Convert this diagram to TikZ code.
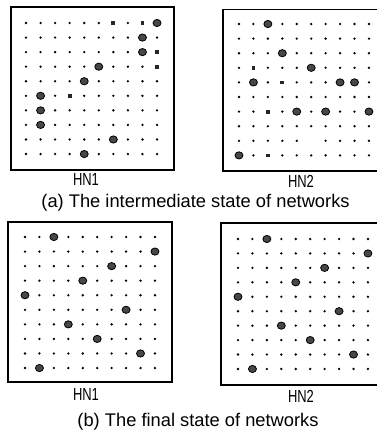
\documentclass[tikz,border=0pt]{standalone}
\usepackage{fontspec}
\setmainfont{Liberation Sans}
\usetikzlibrary{calc}

\tikzset{
  framebox/.style={draw=black, line width=1.6pt},
  smalldot/.style={fill=black},
  bigdot/.style={fill=black!72, draw=black, line width=0.8pt},
  sqdot/.style={fill=black!85},
  netlabel/.style={anchor=base, inner sep=0pt, font=\fontsize{17.5}{17.5}\selectfont},
  caption/.style={anchor=base, inner sep=0pt, font=\fontsize{18.3}{18}\selectfont}
}

% grid helpers (grid units: column/row index, starting at 1)
\newcommand\fulldots{%
  \foreach \r in {1,...,10} \foreach \c in {1,...,10}
    \fill[smalldot] (\c,\r) circle (1.3pt);}
\newcommand\bigat[2]{\fill[bigdot] (#2,#1) ellipse [x radius=4pt, y radius=3.6pt];}
\newcommand\sqat[2]{\fill[sqdot] ($(#2,#1)+(-1.9pt,-1.9pt)$) rectangle ++(3.8pt,3.8pt);}

\begin{document}
\begin{tikzpicture}[x=1pt, y=-1pt]
\useasboundingbox (0,0) rectangle (376,432);
\fill[white] (0,0) rectangle (376,432);

% frames
\draw[framebox] (11,7) rectangle (174,170);
\draw[framebox] (223,9.5) rectangle (392,171);
\draw[framebox] (8,222) rectangle (172,382);
\draw[framebox] (221,223) rectangle (392,385);

% (a) HN1
\begin{scope}[shift={(11.44,8.44)}, x=14.56pt, y=-14.56pt]
  \fulldots
  \sqat{1}{7} \sqat{1}{9} \bigat{1}{10}
  \bigat{2}{9}
  \bigat{3}{9} \sqat{3}{10}
  \bigat{4}{6} \sqat{4}{10}
  \bigat{5}{5}
  \bigat{6}{2} \sqat{6}{4}
  \bigat{7}{2}
  \bigat{8}{2}
  \bigat{9}{7}
  \bigat{10}{5}
\end{scope}

% (a) HN2
\begin{scope}[shift={(224.56,9.4)}, x=14.44pt, y=-14.6pt]
  \foreach \r in {1,...,8,10} \foreach \c in {1,...,10}
    \fill[smalldot] (\c,\r) circle (1.3pt);
  \foreach \c in {1,...,5,7,8,9,10}
    \fill[smalldot] (\c,9) circle (1.3pt);
  \bigat{1}{3}
  \bigat{3}{4}
  \sqat{4}{2} \bigat{4}{6}
  \bigat{5}{2} \sqat{5}{4} \bigat{5}{8} \bigat{5}{9}
  \sqat{7}{3} \bigat{7}{5} \bigat{7}{7} \bigat{7}{10}
  \bigat{10}{1} \sqat{10}{3}
\end{scope}

% (b) HN1
\begin{scope}[shift={(10.56,222.44)}, x=14.44pt, y=-14.56pt]
  \fulldots
  \bigat{1}{3} \bigat{2}{10} \bigat{3}{7} \bigat{4}{5} \bigat{5}{1}
  \bigat{6}{8} \bigat{7}{4} \bigat{8}{6} \bigat{9}{9} \bigat{10}{2}
\end{scope}

% (b) HN2
\begin{scope}[shift={(223.56,224.56)}, x=14.44pt, y=-14.44pt]
  \fulldots
  \bigat{1}{3} \bigat{2}{10} \bigat{3}{7} \bigat{4}{5} \bigat{5}{1}
  \bigat{6}{8} \bigat{7}{4} \bigat{8}{6} \bigat{9}{9} \bigat{10}{2}
\end{scope}

% labels
\node[netlabel] (la1) at (86,185) {\scalebox{0.74}[1]{HN1}};
\node[netlabel] (la2) at (301,187) {\scalebox{0.74}[1]{HN2}};
\node[netlabel] (lb1) at (86,400) {\scalebox{0.74}[1]{HN1}};
\node[netlabel] (lb2) at (301,402) {\scalebox{0.74}[1]{HN2}};

\node[caption] (capa) at (195.5,207) {(a) The intermediate state of networks};
\node[caption] (capb) at (198,426) {(b) The final state of networks};
\end{tikzpicture}
\end{document}
